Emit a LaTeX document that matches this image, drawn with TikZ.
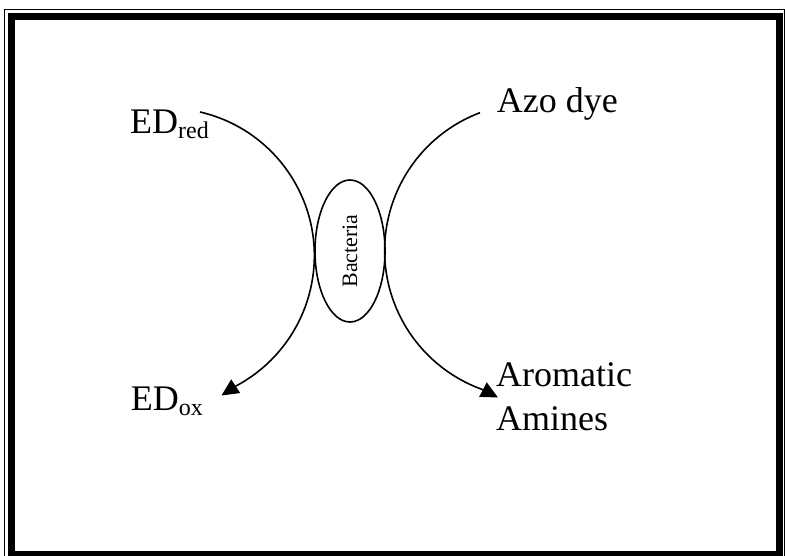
\documentclass[tikz,border=0pt]{standalone}
\usepackage{fontspec}
\setmainfont{Liberation Serif}
\usetikzlibrary{shapes.geometric,arrows.meta}
\tikzset{
  lbl/.style={inner sep=0pt, anchor=base west, font=\fontsize{36}{43.3}\selectfont},
  conn/.style={line width=1.6pt, -{Triangle[length=17pt,width=16pt]}},
  cell/.style={draw, line width=1.6pt, ellipse, minimum width=70pt, minimum height=142pt, inner sep=0pt, font=\fontsize{22}{22}\selectfont}
}
\newcommand{\subt}[1]{\raisebox{-5pt}{\fontsize{24}{24}\selectfont #1}}
\begin{document}
\begin{tikzpicture}[x=1pt,y=-1pt]
\useasboundingbox (0,0) rectangle (785,556);
\begin{scope}
\clip (0,0) rectangle (785,556);
\draw[line width=7pt] (11.2,16.7) rectangle (779,554.7);
\draw[line width=1pt] (4.5,9.5) rectangle (784,561);
\end{scope}
\node[cell] (bac) at (350,251) {\rotatebox{90}{Bacteria}};
\node[lbl] (edred) at (130,133.3) {ED\subt{red}};
\node[lbl] (edox) at (130.7,410) {ED\subt{ox}};
\node[lbl] (azo) at (496.7,112.7) {Azo dye};
\node[lbl, align=left] (arom) at (496,430) {Aromatic\\Amines};
\coordinate (ls) at (200,112);
\coordinate (lt) at (221.5,395.5);
\coordinate (rs) at (480,112.7);
\coordinate (rt) at (498,397.5);
\draw[conn] (ls) arc[start angle=-77, end angle=62, radius=147.5] -- (lt);
\draw[conn] (rs) arc[start angle=-110.7, end angle=-250.8, radius=147.5] -- (rt);
\end{tikzpicture}
\end{document}
